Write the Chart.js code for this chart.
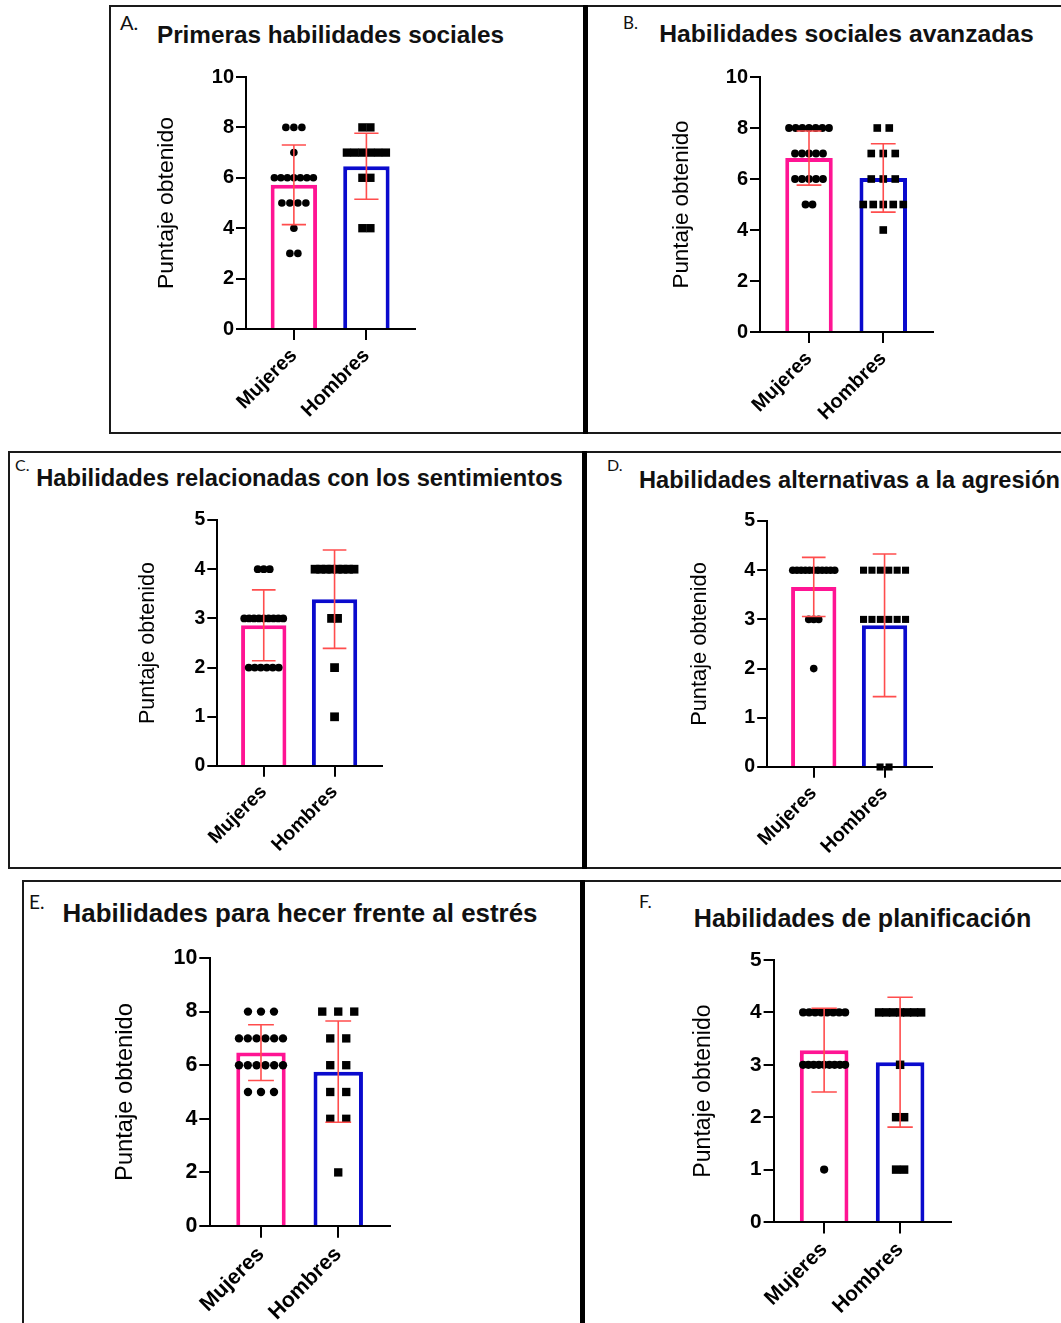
<!DOCTYPE html>
<html>
<head>
<meta charset="utf-8">
<script src="https://cdn.jsdelivr.net/npm/chart.js@4.4.1/dist/chart.umd.min.js"></script>
<style>
  body { margin: 0; background: #fff; }
  #page { position: relative; width: 1061px; height: 1323px; overflow: hidden; background: #fff; }
  .box { position: absolute; border: 2px solid #1a1a1a; box-sizing: border-box; }
  .divider { position: absolute; background: #000; }
  .ttl { position: absolute; font-family: "Liberation Sans", Arial, sans-serif; font-weight: bold; color: #111; white-space: nowrap; transform: translateX(-50%); }
  .let { position: absolute; font-family: Lato, "Open Sans", sans-serif; color: #111; white-space: nowrap; }
  canvas { position: absolute; }
</style>
</head>
<body>
<div id="page">
  <div class="box" style="left:109px;top:5px;width:477px;height:429px"></div>
  <div class="box" style="left:586px;top:5px;width:600px;height:429px"></div>
  <div class="divider" style="left:583px;top:5px;width:5px;height:429px"></div>

  <div class="box" style="left:8px;top:451px;width:577px;height:418px"></div>
  <div class="box" style="left:585px;top:451px;width:600px;height:418px"></div>
  <div class="divider" style="left:582px;top:451px;width:5px;height:418px"></div>

  <div class="box" style="left:22px;top:880px;width:561px;height:500px"></div>
  <div class="box" style="left:582px;top:880px;width:600px;height:500px"></div>
  <div class="divider" style="left:580px;top:880px;width:5px;height:443px"></div>
</div>
<script>
const groups = ["Mujeres", "Hombres"];
const panelLetters = ["A.", "B.", "C.", "D.", "E.", "F."];
const panelTitles = [
  "Primeras habilidades sociales",
  "Habilidades sociales avanzadas",
  "Habilidades relacionadas con los sentimientos",
  "Habilidades alternativas a la agresión",
  "Habilidades para hecer frente al estrés",
  "Habilidades de planificación"
];
const yAxisTitle = "Puntaje obtenido";
const yMaxima = [10, 10, 5, 5, 10, 5];
const yTickSteps = [2, 2, 1, 1, 2, 1];

// individual scores, one entry per participant
const mujeresA = [8, 8, 8, 7, 6, 6, 6, 6, 6, 6, 6, 5, 5, 5, 5, 4, 3, 3];
const hombresA = [8, 8, 7, 7, 7, 7, 7, 7, 6, 6, 4, 4];
const mujeresB = [8, 8, 8, 8, 8, 8, 8, 7, 7, 7, 7, 7, 6, 6, 6, 6, 6, 5, 5];
const hombresB = [8, 8, 7, 7, 7, 6, 6, 6, 5, 5, 5, 5, 5, 4];
const mujeresC = [4, 4, 4, 3, 3, 3, 3, 3, 3, 3, 3, 3, 2, 2, 2, 2, 2, 2];
const hombresC = [4, 4, 4, 4, 4, 4, 4, 4, 3, 3, 2, 1];
const mujeresD = [4, 4, 4, 4, 4, 4, 4, 4, 4, 4, 4, 3, 3, 3, 2];
const hombresD = [4, 4, 4, 4, 4, 4, 3, 3, 3, 3, 3, 3, 0, 0];
const mujeresE = [8, 8, 8, 7, 7, 7, 7, 7, 7, 6, 6, 6, 6, 6, 6, 5, 5, 5];
const hombresE = [8, 8, 8, 7, 7, 6, 6, 5, 5, 4, 4, 2];
const mujeresF = [4, 4, 4, 4, 4, 4, 4, 4, 3, 3, 3, 3, 3, 3, 3, 3, 3, 1];
const hombresF = [4, 4, 4, 4, 4, 4, 4, 3, 2, 2, 1, 1];

// bar height (mean) and error bar half length (SD), as drawn in the figure
const meansA = [5.72, 6.46];
const sdsA = [1.58, 1.31];
const meansB = [6.82, 6.04];
const sdsB = [1.06, 1.34];
const meansC = [2.86, 3.39];
const sdsC = [0.72, 1.0];
const meansD = [3.66, 2.88];
const sdsD = [0.6, 1.45];
const meansE = [6.47, 5.76];
const sdsE = [1.04, 1.89];
const meansF = [3.28, 3.05];
const sdsF = [0.8, 1.24];

const scores = [[mujeresA, hombresA], [mujeresB, hombresB], [mujeresC, hombresC],
                [mujeresD, hombresD], [mujeresE, hombresE], [mujeresF, hombresF]];
const means = [meansA, meansB, meansC, meansD, meansE, meansF];
const sds = [sdsA, sdsB, sdsC, sdsD, sdsE, sdsF];

// layout of each panel on the page (pixels)
const frames = [
  { x0: 246, x1: 415, top: 77, zero: 329, gap: 79, k: 1.0, tSize: 24.3, tBase: 44, ySize: 22.9, dot: 3.8, sq: 5.9, spread: [8, 8], span: 39, letter: [120, 15, 20] },
  { x0: 760, x1: 933, top: 77, zero: 332, gap: 79, k: 1.0, tSize: 24.7, tBase: 43, ySize: 22.4, dot: 3.9, sq: 5.4, spread: [7, 12], span: 40, letter: [623, 16.5, 17] },
  { x0: 217, x1: 382, top: 520, zero: 766, gap: 69, k: 0.97, tSize: 23.7, tBase: 487, ySize: 21.6, dot: 3.9, sq: 6.2, spread: [6, 6], span: 39, letter: [15, 460, 16] },
  { x0: 767, x1: 932, top: 521, zero: 767, gap: 67, k: 0.98, tSize: 23.6, tBase: 489, ySize: 21.8, dot: 3.8, sq: 5.0, spread: [5, 9], span: 42, letter: [607, 460, 16] },
  { x0: 210, x1: 390, top: 958, zero: 1226, gap: 85, k: 1.07, tSize: 25.9, tBase: 923, ySize: 23.7, dot: 4.2, sq: 5.9, spread: [13, 16], span: 44, letter: [29, 895, 19] },
  { x0: 774, x1: 951, top: 960, zero: 1222, gap: 70, k: 1.04, tSize: 25.1, tBase: 927, ySize: 23.1, dot: 4.1, sq: 6.0, spread: [6, 8], span: 42, letter: [639, 895, 18] }
];

const PINK = "#FF1493";
const BLUE = "#0A0ACD";
const RED = "#FF4D4D";
const FONT = "'Liberation Sans', Arial, sans-serif";

Chart.defaults.font.family = FONT;

// spreads points that share a value sideways, like a column scatter
function spreadPlugin(gaps, span) {
  return {
    id: "spread",
    afterDatasetsUpdate(chart) {
      chart.data.datasets.forEach((ds, i) => {
        if (ds.type !== "scatter") return;
        const meta = chart.getDatasetMeta(i);
        const rows = {};
        ds.data.forEach((p, j) => {
          if (!rows[p.y]) rows[p.y] = [];
          rows[p.y].push(j);
        });
        const gap = gaps[ds.group];
        Object.values(rows).forEach((idx) => {
          const n = idx.length;
          const step = n > 1 ? Math.min(gap, span / (n - 1)) : 0;
          idx.forEach((j, q) => {
            meta.data[j].x += (q - (n - 1) / 2) * step;
          });
        });
      });
    },
  };
}

function errorBarPlugin(m, s) {
  return {
    id: "errorBars",
    afterDatasetsDraw(chart) {
      const { ctx, scales: { x, y } } = chart;
      ctx.save();
      ctx.strokeStyle = RED;
      ctx.lineWidth = 1.6;
      m.forEach((mean, g) => {
        const px = x.getPixelForValue(g);
        const hi = y.getPixelForValue(mean + s[g]);
        const lo = y.getPixelForValue(mean - s[g]);
        const l = x.getPixelForValue(g - 0.167);
        const r = x.getPixelForValue(g + 0.167);
        ctx.beginPath();
        ctx.moveTo(px, hi); ctx.lineTo(px, lo);
        ctx.moveTo(l, hi); ctx.lineTo(r, hi);
        ctx.moveTo(l, lo); ctx.lineTo(r, lo);
        ctx.stroke();
      });
      ctx.restore();
    },
  };
}

const page = document.getElementById("page");

function buildPanel(i) {
  const f = frames[i];
  const padTop = 16, padRight = 14, hx = 110;
  const left = Math.round(f.x0 - (f.gap + f.ySize * 0.6));
  const wy = f.x0 - left;
  const width = Math.round(wy + (f.x1 - f.x0) + padRight);
  const height = padTop + (f.zero - f.top) + hx;

  const canvas = document.createElement("canvas");
  canvas.width = width;
  canvas.height = height;
  canvas.style.left = left + "px";
  canvas.style.top = (f.top - padTop) + "px";
  canvas.style.width = width + "px";
  canvas.style.height = height + "px";
  page.appendChild(canvas);

  const title = document.createElement("div");
  title.className = "ttl";
  title.textContent = panelTitles[i];
  title.style.fontSize = f.tSize + "px";
  title.style.lineHeight = f.tSize + "px";
  title.style.left = (f.x0 + f.x1) / 2 + "px";
  title.style.top = (f.tBase - 0.8465 * f.tSize) + "px";
  page.appendChild(title);

  const letter = document.createElement("div");
  letter.className = "let";
  letter.textContent = panelLetters[i];
  letter.style.fontSize = f.letter[2] + "px";
  letter.style.lineHeight = f.letter[2] + "px";
  letter.style.left = f.letter[0] + "px";
  letter.style.top = (f.letter[1] - 0.171 * f.letter[2]) + "px";
  page.appendChild(letter);

  new Chart(canvas, {
    type: "bar",
    data: {
      datasets: [
        {
          type: "scatter",
          group: 0,
          data: scores[i][0].map((v) => ({ x: 0, y: v })),
          pointStyle: "circle",
          pointRadius: f.dot,
          backgroundColor: "#000",
          borderWidth: 0,
          clip: false,
          order: 1,
        },
        {
          type: "scatter",
          group: 1,
          data: scores[i][1].map((v) => ({ x: 1, y: v })),
          pointStyle: "rect",
          pointRadius: f.sq,
          backgroundColor: "#000",
          borderWidth: 0,
          clip: false,
          order: 1,
        },
        {
          type: "bar",
          data: means[i].map((m, g) => ({ x: g, y: m })),
          backgroundColor: "#fff",
          borderColor: [PINK, BLUE],
          borderWidth: 4,
          barPercentage: 0.64,
          categoryPercentage: 1,
          order: 2,
        },
      ],
    },
    options: {
      responsive: false,
      animation: false,
      events: [],
      layout: { padding: { top: padTop, right: padRight, left: 0, bottom: 0 } },
      plugins: { legend: { display: false }, tooltip: { enabled: false } },
      scales: {
        x: {
          type: "linear",
          min: -0.66,
          max: 1.67,
          offset: false,
          afterBuildTicks: (s) => { s.ticks = [{ value: 0 }, { value: 1 }]; },
          afterFit: (s) => { s.height = hx; },
          grid: { offset: false, drawOnChartArea: false, tickLength: 11 * f.k, color: "#000", lineWidth: 2 },
          border: { display: true, color: "#000", width: 2 },
          ticks: {
            callback: (v) => groups[v],
            autoSkip: false,
            minRotation: 45,
            maxRotation: 45,
            padding: 4,
            color: "#000",
            font: { family: FONT, weight: "bold", size: 20 * f.k },
          },
        },
        y: {
          min: 0,
          max: yMaxima[i],
          afterFit: (s) => { s.width = wy; },
          grid: { drawOnChartArea: false, tickLength: 10 * f.k, color: "#000", lineWidth: 2 },
          border: { display: true, color: "#000", width: 2 },
          ticks: {
            stepSize: yTickSteps[i],
            padding: 2,
            color: "#000",
            font: { family: FONT, weight: "bold", size: 20 * f.k },
          },
          title: {
            display: true,
            text: yAxisTitle,
            color: "#000",
            padding: 0,
            font: { family: FONT, size: f.ySize },
          },
        },
      },
    },
    plugins: [spreadPlugin(f.spread, f.span), errorBarPlugin(means[i], sds[i])],
  });
}

frames.forEach((f, i) => buildPanel(i));
</script>
</body>
</html>
